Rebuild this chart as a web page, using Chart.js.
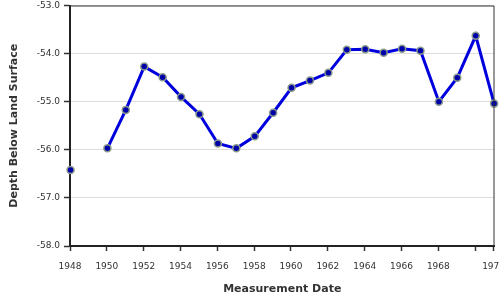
<!DOCTYPE html>
<html><head><meta charset="utf-8">
<script src="https://cdn.jsdelivr.net/npm/chart.js@4"></script>
<style>html,body{margin:0;padding:0;background:#fff}#w{width:500px;height:300px}</style>
</head><body><div id="w"><canvas id="c"></canvas></div>
<script>
const years = [1948,1949,1950,1951,1952,1953,1954,1955,1956,1957,1958,1959,1960,1961,1962,1963,1964,1965,1966,1967,1968,1969,1970,1971];
const depth = [-56.42,null,-55.97,-55.17,-54.27,-54.49,-54.90,-55.26,-55.87,-55.97,-55.72,-55.23,-54.71,-54.56,-54.40,-53.92,-53.91,-53.98,-53.90,-53.94,-55.00,-54.50,-53.63,-55.04];
const xTicks = [1948,1950,1952,1954,1956,1958,1960,1962,1964,1966,1968,1970,1971];
const xTickLabels = ['1948','1950','1952','1954','1956','1958','1960','1962','1964','1966','1968','','1971'];
const yTicks = [-58,-57,-56,-55,-54,-53];

const pts = years.map((y,i)=>({x:y+0.03,y:depth[i]}));
const frame = {id:'frame',afterDraw(ch){const a=ch.chartArea,c=ch.ctx;c.save();c.strokeStyle='#333';c.lineWidth=1;c.beginPath();c.moveTo(a.left,a.top+0.5);c.lineTo(a.right-0.5,a.top+0.5);c.lineTo(a.right-0.5,a.bottom);c.stroke();c.restore();}};
new Chart(document.getElementById('c'),{
  type:'line',
  data:{datasets:[{data:pts,borderColor:'#0000dd',borderWidth:3,spanGaps:false,tension:0,
    pointRadius:3.5,pointBackgroundColor:'#0000aa',pointBorderColor:'#8a9a8a',pointBorderWidth:1.5,clip:false}]},
  options:{responsive:true,maintainAspectRatio:false,animation:false,
    layout:{padding:{top:4,right:3,left:0,bottom:0}},
    plugins:{legend:{display:false},tooltip:{enabled:false}},
    scales:{
      x:{type:'linear',min:1948,max:1971.05,
        afterBuildTicks(s){s.ticks=xTicks.map(v=>({value:v}));},
        afterFit(s){s.paddingLeft=0;s.paddingRight=0;s.height=54;},
        ticks:{autoSkip:false,maxRotation:0,color:'#333',font:{family:'DejaVu Sans',size:9},padding:10,
          callback(v){const i=xTicks.indexOf(v);return i>=0?xTickLabels[i]:'';}},
        grid:{display:true,drawOnChartArea:false,tickLength:5,tickColor:'#333',tickWidth:1.5},
        border:{display:true,color:'#222',width:2},
        title:{display:true,text:'Measurement Date',color:'#333',font:{family:'DejaVu Sans',size:11,weight:'bold'},padding:{top:4}}},
      y:{type:'linear',min:-58,max:-53,
        afterBuildTicks(s){s.ticks=yTicks.map(v=>({value:v}));},
        afterFit(s){s.width=70;s.paddingTop=0;s.paddingBottom=0;},
        ticks:{color:'#333',font:{family:'DejaVu Sans',size:9},padding:4,callback:v=>v.toFixed(1)},
        grid:{color:'#dddddd',lineWidth:1,tickLength:6,tickColor:'#333',tickWidth:1.5},
        border:{display:true,color:'#222',width:2},
        title:{display:true,text:'Depth Below Land Surface',color:'#333',font:{family:'DejaVu Sans',size:11,weight:'bold'},padding:{top:8,bottom:2}}}
    }},
  plugins:[frame]
});
</script></body></html>
